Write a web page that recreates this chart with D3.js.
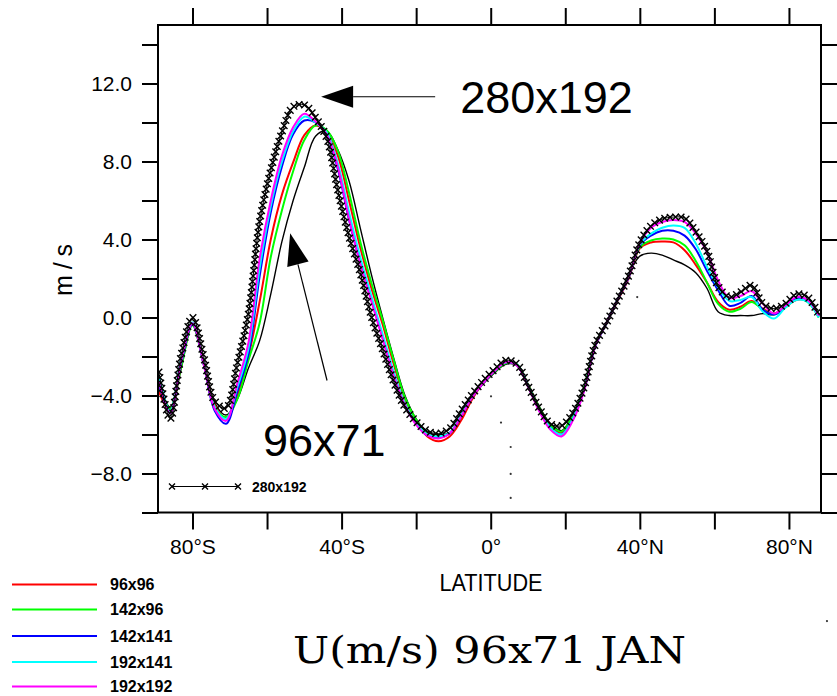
<!DOCTYPE html>
<html><head><meta charset="utf-8">
<script src="https://cdn.jsdelivr.net/npm/d3@7"></script>
<style>body{margin:0;background:#fff;overflow:hidden}</style>
</head><body>
<svg id="c" width="837" height="696"></svg>
<script>
// ---------------- DATA ----------------
const lats = [-89,-86,-83,-80,-77,-74,-71,-68,-65,-62,-59,-56,-53,-50,-47,-44,-41,-38,-35,-32,-29,-26,-23,-20,-17,-14,-11,-8,-5,-2,1,4,7,10,13,16,19,22,25,28,31,34,37,40,43,46,49,52,55,58,61,64,67,70,73,76,79,82,85,88];

const u96x71  = [-3.5,-4.6,-2.6,-0.3,-2.3,-4.4,-5.0,-4.2,-2.6,-1.2,1.2,3.9,6.0,7.7,9.3,9.55,8.6,7.0,4.6,2.2,0.0,-2.1,-4.0,-5.2,-5.9,-6.0,-5.9,-5.1,-4.1,-3.4,-2.85,-2.4,-2.45,-3.4,-4.55,-5.45,-5.8,-5.0,-3.65,-1.5,-0.35,0.9,2.2,3.15,3.3,3.2,2.95,2.7,2.3,1.5,0.3,0.1,0.1,0.1,0.2,0.15,0.6,1.0,0.9,0.1];
const u96x96  = [-3.8,-4.8,-2.4,-0.35,-2.3,-4.5,-5.2,-4.0,-2.0,0.8,4.0,6.3,7.95,9.35,9.85,9.5,8.3,6.0,3.6,1.5,-0.35,-2.4,-4.2,-5.3,-6.1,-6.35,-6.1,-5.3,-4.2,-3.35,-2.75,-2.3,-2.45,-3.45,-4.65,-5.55,-5.9,-5.1,-3.7,-1.45,-0.3,0.85,2.0,3.55,3.85,3.9,3.85,3.45,2.7,1.8,0.8,0.4,0.55,0.85,0.45,0.2,0.55,0.9,0.85,0.05];
const u142x96 = [-3.4,-4.7,-2.5,-0.4,-2.4,-4.6,-5.1,-4.2,-2.2,-0.3,3.1,5.5,7.5,9.1,9.85,9.6,8.55,6.4,3.9,1.77,-0.13,-2.2,-4.1,-5.25,-6.0,-6.1,-5.95,-5.1,-4.1,-3.35,-2.8,-2.35,-2.4,-3.45,-4.6,-5.5,-5.85,-5.0,-3.6,-1.4,-0.3,0.9,2.05,3.6,3.95,4.05,4.0,3.7,2.9,1.8,0.7,0.3,0.45,0.8,0.4,0.15,0.5,0.95,0.8,0.0];
const u142x141= [-3.4,-4.9,-2.3,-0.35,-2.4,-4.8,-5.45,-3.8,-1.9,2.1,5.4,7.75,9.4,10.1,10.0,9.35,7.6,5.0,2.8,0.9,-1.05,-2.95,-4.5,-5.45,-6.05,-6.15,-5.95,-5.1,-4.1,-3.35,-2.75,-2.3,-2.45,-3.5,-4.75,-5.65,-6.0,-5.2,-3.75,-1.5,-0.3,0.9,2.05,3.7,4.2,4.45,4.45,4.2,3.5,2.4,1.4,0.6,0.75,1.1,0.4,0.15,0.55,1.0,0.85,0.05];
const u192x141= [-3.0,-4.8,-2.1,-0.25,-2.35,-4.6,-5.2,-3.6,-1.6,2.5,5.7,8.0,9.55,10.3,10.0,9.5,7.9,5.4,3.1,1.1,-0.85,-2.8,-4.4,-5.4,-6.0,-6.1,-5.9,-5.0,-4.05,-3.3,-2.7,-2.3,-2.4,-3.5,-4.7,-5.65,-6.0,-5.2,-3.7,-1.5,-0.3,0.9,2.05,3.75,4.3,4.6,4.72,4.6,3.8,2.6,1.55,0.85,0.9,1.05,0.3,-0.05,0.5,0.9,0.8,0.0];
const u192x192= [-3.3,-4.9,-2.2,-0.3,-2.4,-4.7,-5.3,-3.4,-1.3,3.0,6.0,8.3,9.75,10.45,10.05,9.4,7.7,5.05,2.75,0.82,-1.1,-3.0,-4.5,-5.5,-6.05,-6.2,-5.95,-5.1,-4.1,-3.35,-2.75,-2.3,-2.45,-3.55,-4.8,-5.75,-6.1,-5.3,-3.8,-1.5,-0.3,0.9,2.05,3.8,4.6,4.9,5.0,4.9,4.3,3.35,1.9,1.0,1.1,1.35,0.7,0.2,0.6,1.05,0.9,0.1];
const u280x192= [-2.8,-5.2,-1.9,0.0,-2.0,-4.3,-4.65,-2.4,0.2,4.9,7.55,9.5,10.8,10.9,10.25,9.2,6.5,4.15,2.3,0.05,-1.65,-3.3,-4.6,-5.35,-5.82,-5.95,-5.7,-4.8,-3.95,-3.23,-2.66,-2.2,-2.38,-3.5,-4.65,-5.45,-5.55,-4.9,-3.6,-1.4,-0.3,0.9,2.15,3.85,4.7,5.05,5.15,5.1,4.4,3.4,1.6,1.05,1.3,1.65,0.7,0.45,0.7,1.2,1.05,0.15];

const legendNames  = ["96x96","142x96","142x141","192x141","192x192"];
const xTickValues  = [-80,-60,-40,-20,0,20,40,60,80];
const xTickLabels  = ["80°S","","40°S","","0°","","40°N","","80°N"];
const yTickValues  = [-10,-8,-6,-4,-2,0,2,4,6,8,10,12,14];
const yTickLabels  = ["","−8.0","","−4.0","","0.0","","4.0","","8.0","","12.0",""];
const strayDots    = [[0.08,-4.04],[2.76,-5.39],[5.36,-6.64],[5.36,-8.02],[5.36,-9.25],[39.3,1.05],[90.2,-15.57]];
const annotations  = [
  {text:"280x192", at:[-8.2,10.5],  tip:[-45.5,11.32], tail:[-14.9,11.32]},
  {text:"96x71",   at:[-61.1,-7.09], tip:[-53.8,4.32],  tail:[-43.9,-3.23]}
];

// ---------------- CHART ----------------
const svg = d3.select('#c');
const SANS = "'Liberation Sans', Arial, sans-serif";
const L = 158, R = 821, T = 25, B = 512.5;
const x = d3.scaleLinear().domain([-89.25, 88.6]).range([L, R]);
const y = d3.scaleLinear().domain([-10, 15]).range([B, T]);

svg.append('defs').append('clipPath').attr('id','plot')
  .append('rect').attr('x',L).attr('y',T).attr('width',R-L).attr('height',B-T);

const line = d3.line().x((d,i)=>x(lats[i])).y(d=>y(d)).curve(d3.curveCatmullRom.alpha(0.5));

const series = [
  {v:u96x71,  c:'#000000', w:1.4},
  {v:u96x96,  c:'#ff0000', w:2},
  {v:u142x96, c:'#00ff00', w:2},
  {v:u142x141,c:'#0000ff', w:2},
  {v:u192x141,c:'#00ffff', w:2},
  {v:u192x192,c:'#ff00ff', w:2},
];
const gp = svg.append('g').attr('clip-path','url(#plot)');
series.forEach(s=>{
  gp.append('path').attr('d', line(s.v)).attr('fill','none')
    .attr('stroke', s.c).attr('stroke-width', s.w).attr('stroke-linejoin','round');
});
// 280x192 with x markers
const px = gp.append('path').attr('d', line(u280x192)).attr('fill','none')
  .attr('stroke','#000').attr('stroke-width',1);
function xMark(g, cx, cy, h){
  g.append('path').attr('d',`M${cx-h},${cy-h}L${cx+h},${cy+h}M${cx-h},${cy+h}L${cx+h},${cy-h}`)
   .attr('stroke','#000').attr('stroke-width',1.4).attr('fill','none');
}
const node = px.node(), tot = node.getTotalLength();
for (let d=0; d<=tot; d+=5.5){ const p=node.getPointAtLength(d); xMark(gp,p.x,p.y,3.3); }

// stray dots
svg.append('g').selectAll('circle').data(strayDots).join('circle')
  .attr('cx',d=>x(d[0])).attr('cy',d=>y(d[1])).attr('r',1.1).attr('fill','#333');

// axes
function styleAxis(g){
  g.select('.domain').remove();
  g.selectAll('.tick line').attr('stroke','#000').attr('stroke-width',2);
  g.selectAll('.tick text').attr('font-family',SANS).attr('font-size',21).attr('fill','#000');
}
svg.append('g').attr('transform',`translate(0,${B})`)
  .call(d3.axisBottom(x).tickValues(xTickValues).tickSize(17).tickPadding(10).tickFormat((d,i)=>xTickLabels[i]))
  .call(styleAxis);
svg.append('g').attr('transform',`translate(0,${T})`)
  .call(d3.axisTop(x).tickValues(xTickValues).tickSize(17).tickFormat(''))
  .call(styleAxis);
svg.append('g').attr('transform',`translate(${L},0)`)
  .call(d3.axisLeft(y).tickValues(yTickValues).tickSize(16).tickPadding(10).tickFormat((d,i)=>yTickLabels[i]))
  .call(styleAxis);
svg.append('g').attr('transform',`translate(${R},0)`)
  .call(d3.axisRight(y).tickValues(yTickValues).tickSize(16).tickFormat(''))
  .call(styleAxis);

svg.append('rect').attr('x',L).attr('y',T).attr('width',R-L).attr('height',B-T)
  .attr('fill','none').attr('stroke','#000').attr('stroke-width',2);

// axis titles
svg.append('text').attr('x',491).attr('y',591).attr('text-anchor','middle')
  .attr('font-family',SANS).attr('font-size',24).attr('textLength',103).attr('lengthAdjust','spacingAndGlyphs')
  .text('LATITUDE');
svg.append('text').attr('transform','translate(72,270) rotate(-90)').attr('text-anchor','middle')
  .attr('font-family',SANS).attr('font-size',25).attr('textLength',52).attr('lengthAdjust','spacing')
  .text('m/s');

// in-plot legend (280x192)
const lg = svg.append('g');
lg.append('line').attr('x1',172).attr('x2',238).attr('y1',486.5).attr('y2',486.5).attr('stroke','#000').attr('stroke-width',1);
[172,205,238].forEach(cx=>xMark(lg,cx,486.5,3));
lg.append('text').attr('x',252).attr('y',492).attr('font-family',SANS).attr('font-weight','bold')
  .attr('font-size',14).text('280x192');

// bottom legend
const legColors = ['#ff0000','#00ff00','#0000ff','#00ffff','#ff00ff'];
const legY = [584.5,609.5,636,662,686.5];
legendNames.forEach((n,i)=>{
  svg.append('line').attr('x1',12).attr('x2',97).attr('y1',legY[i]).attr('y2',legY[i])
    .attr('stroke',legColors[i]).attr('stroke-width',2);
  svg.append('text').attr('x',110).attr('y',legY[i]).attr('dy','0.36em')
    .attr('font-family',SANS).attr('font-weight','bold').attr('font-size',16).text(n);
});

// title
svg.append('text').attr('x',293).attr('y',663)
  .attr('font-family',"'DejaVu Serif', serif").attr('font-size',38)
  .attr('textLength',393).attr('lengthAdjust','spacingAndGlyphs')
  .text('U(m/s) 96x71 JAN');

// annotations
const ga = svg.append('g');
annotations.forEach(a=>{
  const tx=x(a.tip[0]), ty=y(a.tip[1]), sx=x(a.tail[0]), sy=y(a.tail[1]);
  const dx=sx-tx, dy=sy-ty, len=Math.hypot(dx,dy), ux=dx/len, uy=dy/len;
  const hl=32, hw=11;
  const bx=tx+ux*hl, by=ty+uy*hl;
  ga.append('line').attr('x1',bx).attr('y1',by).attr('x2',sx).attr('y2',sy)
    .attr('stroke','#000').attr('stroke-width',1.2);
  ga.append('path').attr('d',`M${tx},${ty}L${bx-uy*hw},${by+ux*hw}L${bx+uy*hw},${by-ux*hw}Z`).attr('fill','#000');
  ga.append('text').attr('x',x(a.at[0])).attr('y',y(a.at[1]))
    .attr('font-family',SANS).attr('font-size',45).text(a.text);
});
</script>
</body></html>
